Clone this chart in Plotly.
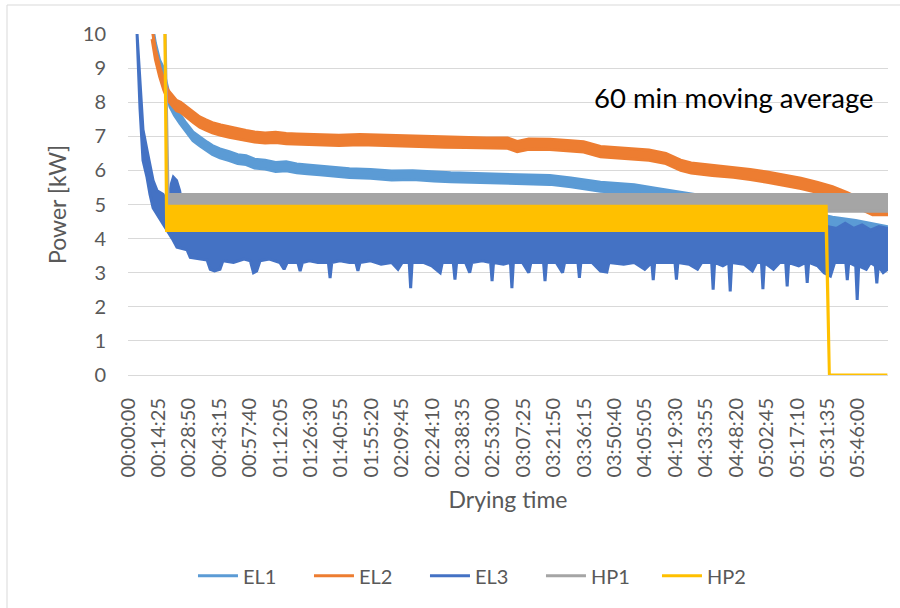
import plotly.graph_objects as go

# ---------------- data (time in minutes, power in kW) ----------------
tick_labels = ["00:00:00", "00:14:25", "00:28:50", "00:43:15", "00:57:40", "01:12:05",
               "01:26:30", "01:40:55", "01:55:20", "02:09:45", "02:24:10", "02:38:35",
               "02:53:00", "03:07:25", "03:21:50", "03:36:15", "03:50:40", "04:05:05",
               "04:19:30", "04:33:55", "04:48:20", "05:02:45", "05:17:10", "05:31:35",
               "05:46:00"]

# EL1: centre of the noisy line and its half-width
EL1_t = [11.9, 13, 15, 16.6, 18, 19.9, 22, 24.7, 27, 30.8, 34, 37.5, 40, 43.6, 48, 52, 56, 60,
         65, 70, 75, 80, 85, 91, 98, 105, 115, 125, 135, 145, 153, 165, 175, 185, 200, 210,
         224, 240, 250, 260, 271, 285, 300, 315, 325, 334, 345, 353, 360]
EL1_v = [10.0, 9.6, 9.1, 8.9, 8.5, 8.0, 7.75, 7.5, 7.3, 7.0, 6.85, 6.7, 6.6, 6.5, 6.42, 6.33,
         6.3, 6.2, 6.17, 6.1, 6.12, 6.06, 6.03, 6.0, 5.97, 5.92, 5.9, 5.85, 5.86, 5.82, 5.8,
         5.78, 5.75, 5.74, 5.72, 5.65, 5.52, 5.45, 5.35, 5.25, 5.15, 5.0, 4.88, 4.75, 4.62,
         4.5, 4.4, 4.3, 4.22]
EL1_noise = 0.13

# EL2
EL2_t = [11.4, 13, 15, 17, 19, 21, 23, 25, 28, 31, 34, 37, 40, 44, 48, 52, 56, 60, 65, 70,
         75, 80, 90, 100, 110, 120, 130, 140, 150, 160, 170, 180, 184.5, 190, 200, 210, 216,
         224, 235, 247, 255, 262, 267, 277, 287, 295, 303, 311, 319, 327, 334, 341, 348, 353,
         360]
EL2_v = [10.0, 9.4, 8.9, 8.5, 8.2, 8.05, 7.9, 7.85, 7.7, 7.55, 7.42, 7.33, 7.25, 7.18, 7.12,
         7.06, 7.02, 6.98, 6.95, 6.97, 6.93, 6.92, 6.9, 6.88, 6.9, 6.88, 6.86, 6.85, 6.83, 6.82,
         6.8, 6.8, 6.7, 6.77, 6.76, 6.72, 6.69, 6.55, 6.5, 6.45, 6.35, 6.15, 6.07, 6.0, 5.95,
         5.88, 5.8, 5.72, 5.62, 5.5, 5.37, 5.2, 5.0, 4.85, 4.85]
EL2_noise = 0.15

# EL3: upper and lower envelope of the noisy line
EL3_up_t = [4.3, 5.7, 7.1, 9.0, 10.4, 11.9, 13.8, 16.6, 19.0, 20.5, 21.5, 23.0, 24.5, 26.0,
            28.0, 30.0, 332.0, 336, 340, 344, 348, 352, 356, 360]
EL3_up_v = [10.0, 8.6, 7.2, 6.6, 6.2, 5.7, 5.4, 5.3, 5.0, 5.6, 5.8, 5.7, 5.4, 4.8, 4.5, 4.35,
            4.35, 4.3, 4.45, 4.3, 4.4, 4.25, 4.35, 4.3]
EL3_low_t = [4.3, 5.7, 7.1, 9.0, 10.4, 11.9, 13.8, 16.6, 19, 21, 23.2, 28, 29.5, 37.5, 39, 41,
             43.6, 45, 50, 55, 58, 59.5, 61, 62.6, 67, 72, 74, 75.5, 80.5, 81.6, 82.7, 86, 90,
             95, 95.8, 96.6, 100.5, 105, 108, 109, 110, 115, 120, 125, 128, 130, 133.3, 134,
             134.7, 140, 144, 148, 149, 154.2, 155, 155.8, 160, 162, 163, 168, 171.9, 172.6,
             173.3, 178, 181.3, 182, 182.7, 187, 190, 191, 197, 197.7, 198.4, 203, 206, 207,
             213.3, 214, 214.7, 220, 224, 227, 228, 235, 240, 245, 248.3, 249, 249.7, 255,
             259.3, 260, 260.7, 266, 270, 272, 276.7, 277.4, 278.1, 282, 284.8, 285.5, 286.2,
             292, 296, 298, 300.3, 301, 301.7, 306, 309, 311.8, 312.5, 313.2, 318, 321.3, 322,
             322.7, 327, 330, 333, 335, 340.3, 341, 341.7, 345, 345.7, 346.4, 350, 352, 354.3,
             355, 355.7, 358, 360]
EL3_low_v = [10.0, 7.8, 6.3, 5.8, 5.3, 4.9, 4.7, 4.45, 4.2, 4.0, 3.75, 3.67, 3.45, 3.37, 3.1,
             3.05, 3.1, 3.35, 3.3, 3.4, 3.35, 3.0, 3.05, 3.35, 3.4, 3.3, 3.1, 3.3, 3.3, 3.05,
             3.3, 3.35, 3.3, 3.3, 2.84, 3.3, 3.35, 3.3, 3.3, 3.05, 3.3, 3.35, 3.25, 3.3, 3.1,
             3.3, 3.3, 2.55, 3.3, 3.3, 3.2, 3.0, 3.3, 3.3, 2.8, 3.3, 3.3, 3.0, 3.3, 3.35, 3.3,
             2.75, 3.3, 3.25, 3.3, 2.55, 3.3, 3.3, 3.0, 3.3, 3.3, 2.75, 3.3, 3.3, 3.0, 3.3,
             3.3, 2.85, 3.3, 3.3, 3.05, 3.02, 3.3, 3.25, 3.3, 3.1, 3.3, 2.78, 3.3, 3.3, 3.3,
             2.8, 3.3, 3.25, 3.1, 3.3, 3.3, 2.5, 3.3, 3.2, 3.3, 2.45, 3.3, 3.25, 3.05, 3.3,
             3.3, 2.52, 3.3, 3.1, 3.3, 3.3, 2.6, 3.3, 3.2, 3.3, 2.7, 3.3, 3.2, 3.0, 2.9, 3.3,
             3.3, 2.78, 3.3, 3.2, 2.2, 3.2, 3.1, 3.3, 3.2, 2.69, 3.2, 3.0, 3.1]

# HP1: on/off cycling band
HP1_t = [17.6, 19.0, 360]
HP1_up = [10.0, 5.29, 5.29]
HP1_low = [10.0, 4.8, 4.8]

# HP2: on/off cycling band, switched off at the end
HP2_t = [17.5, 18.3, 331.0, 332.5, 360]
HP2_up = [10.0, 4.95, 4.95, 0.0, 0.0]
HP2_low = [10.0, 4.24, 4.24, 0.0, 0.0]

colors = {"EL1": "#5B9BD5", "EL2": "#ED7D31", "EL3": "#4472C4", "HP1": "#A5A5A5", "HP2": "#FFC000"}

# ---------------------------------------------------------------------
def tick_minutes(label):
    h, m, s = (int(p) for p in label.split(":"))
    return h * 60 + m + s / 60.0

tick_vals = [tick_minutes(l) for l in tick_labels]

def band(name, t_up, v_up, t_low, v_low):
    xs = list(t_up) + list(t_low)[::-1]
    ys = list(v_up) + list(v_low)[::-1]
    return go.Scatter(x=xs, y=ys, mode="lines", fill="toself",
                      fillcolor=colors[name], line=dict(color=colors[name], width=3),
                      name=name, showlegend=False, hoverinfo="skip")

fig = go.Figure()
fig.add_trace(band("EL1", EL1_t, [v + EL1_noise for v in EL1_v], EL1_t, [v - EL1_noise for v in EL1_v]))
fig.add_trace(band("EL2", EL2_t, [v + EL2_noise for v in EL2_v], EL2_t, [v - EL2_noise for v in EL2_v]))
fig.add_trace(band("EL3", EL3_up_t, EL3_up_v, EL3_low_t, EL3_low_v))
fig.add_trace(band("HP1", HP1_t, HP1_up, HP1_t, HP1_low))
fig.add_trace(band("HP2", HP2_t, HP2_up, HP2_t, HP2_low))

for name in ["EL1", "EL2", "EL3", "HP1", "HP2"]:
    fig.add_trace(go.Scatter(x=[None], y=[None], mode="lines", name=name,
                             line=dict(color=colors[name], width=3)))

FONT = "Lato, 'Open Sans', sans-serif"
GREY = "#595959"

fig.update_layout(
    width=900, height=608,
    margin=dict(l=128, r=12, t=34, b=233, autoexpand=False),
    paper_bgcolor="white", plot_bgcolor="white",
    font=dict(family=FONT, color=GREY, size=20),
    showlegend=True,
    legend=dict(orientation="h", x=0.0855, xanchor="left", y=-0.589, yanchor="middle",
                font=dict(family=FONT, size=20, color=GREY),
                entrywidth=61, entrywidthmode="pixels", itemwidth=40,
                bgcolor="rgba(0,0,0,0)"),
    xaxis=dict(range=[0, 360.3], tickmode="array", tickvals=tick_vals, ticktext=tick_labels,
               tickangle=-90, showgrid=False, zeroline=False, showline=True,
               linecolor="#D9D9D9", linewidth=1, ticks="", ticklabelstandoff=14,
               automargin=False,
               tickfont=dict(family=FONT, size=20, color=GREY),
               title=dict(text="Drying time", standoff=15,
                          font=dict(family=FONT, size=23, color=GREY))),
    yaxis=dict(range=[0, 10], dtick=1, tick0=0, showgrid=True, gridcolor="#D9D9D9",
               gridwidth=1, zeroline=False, showline=False, ticks="",
               ticklabelstandoff=21, automargin=False,
               tickfont=dict(family=FONT, size=20, color=GREY),
               title=dict(text="Power [kW]", standoff=9,
                          font=dict(family=FONT, size=23, color=GREY))),
    annotations=[dict(text="60 min moving average", xref="paper", yref="paper",
                      x=0.797, y=0.815, xanchor="center", yanchor="middle", showarrow=False,
                      font=dict(family=FONT, size=27.5, color="black"))],
    shapes=[dict(type="rect", xref="paper", yref="paper", x0=-0.1592, x1=1.06,
                 y0=-0.8, y1=1.085, line=dict(color="#D9D9D9", width=1),
                 fillcolor="rgba(0,0,0,0)", layer="below")],
)

fig.write_html("out.html", config={"displayModeBar": False},
               post_script="document.body.style.margin='0px';")
